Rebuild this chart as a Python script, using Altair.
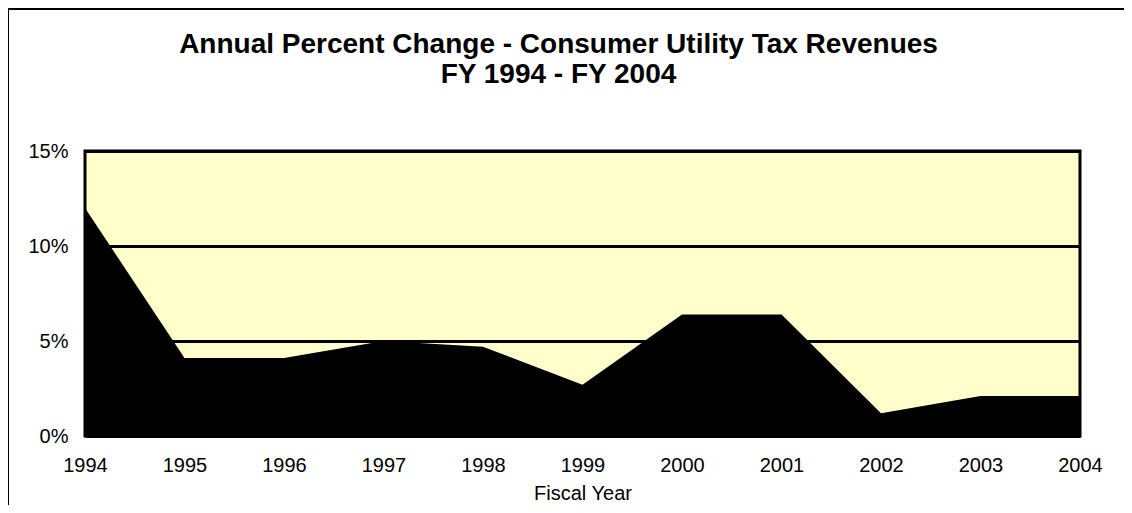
import altair as alt
import pandas as pd

years = [1994, 1995, 1996, 1997, 1998, 1999, 2000, 2001, 2002, 2003, 2004]
pct_change = [0.120, 0.041, 0.041, 0.050, 0.047, 0.027, 0.064, 0.064, 0.012, 0.021, 0.021]
y_ticks = [0, 0.05, 0.10, 0.15]
title_lines = ["Annual Percent Change - Consumer Utility Tax Revenues", "FY 1994 - FY 2004"]

df = pd.DataFrame({"year": years, "pct": pct_change})

FONT = "Liberation Sans"

area = alt.Chart(df).mark_area(color="black", interpolate="linear").encode(
    x=alt.X("year:Q",
            scale=alt.Scale(domain=[years[0], years[-1]], nice=False, zero=False),
            axis=alt.Axis(values=years, format="d", title="Fiscal Year",
                          grid=False, ticks=False, domain=False,
                          labelFontSize=20, labelFont=FONT, labelColor="black",
                          labelPadding=19, titleFontSize=20, titleFont=FONT,
                          titleFontWeight="normal", titleColor="black", titlePadding=8,
                          labelFlush=False)),
    y=alt.Y("pct:Q",
            scale=alt.Scale(domain=[0, 0.15], nice=False),
            axis=alt.Axis(values=y_ticks, format=".0%", title=None,
                          grid=True, gridColor="black", gridWidth=3, gridOpacity=1,
                          ticks=False, domain=False,
                          labelFontSize=20, labelFont=FONT, labelColor="black",
                          labelPadding=17)),
)

# outer frame lines (left and top edges of the chart box)
frame = alt.Chart(df).mark_rule(color="black", strokeWidth=2).encode(
    x=alt.value(-77), x2=alt.value(-77), y=alt.value(-143), y2=alt.value(500)
) + alt.Chart(df).mark_rule(color="black", strokeWidth=2).encode(
    x=alt.value(-77), x2=alt.value(1100), y=alt.value(-142), y2=alt.value(-142)
)

chart = alt.layer(area, frame).properties(
    width=995,
    height=285,
    title=alt.TitleParams(text=title_lines, fontSize=28, font=FONT, fontWeight="bold",
                          color="black", anchor="middle", frame="group", dx=-24,
                          offset=-82, lineHeight=30),
    autosize=alt.AutoSizeParams(type="none"),
    padding={"left": 77, "top": 143, "right": 44, "bottom": 69},
).configure(
    background="white"
).configure_view(
    fill="#FFFFCC", stroke="black", strokeWidth=3
)

chart.save("out.html", embed_options={"renderer": "svg", "actions": False})
